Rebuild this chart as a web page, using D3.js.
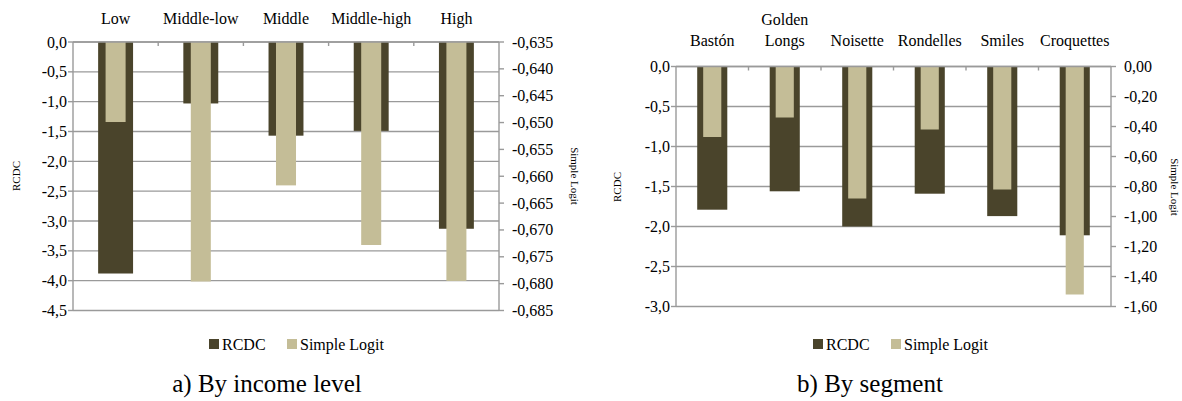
<!DOCTYPE html>
<html><head><meta charset="utf-8">
<script src="https://cdn.jsdelivr.net/npm/d3@7"></script>
</head>
<body style="margin:0;background:#fff"><svg id="c" width="1182" height="401"></svg>
<script>
// ---- Data ----
const incomeCategories = ["Low","Middle-low","Middle","Middle-high","High"];
const incomeRCDC = [-3.88,-1.03,-1.57,-1.49,-3.13];
const incomeLogit = [-0.6499,-0.6796,-0.6617,-0.6728,-0.6795];
const incomeLeftTicks = [0,-0.5,-1,-1.5,-2,-2.5,-3,-3.5,-4,-4.5];
const incomeRightTicks = [-0.635,-0.640,-0.645,-0.650,-0.655,-0.660,-0.665,-0.670,-0.675,-0.680,-0.685];

const segmentCategories = [["Bastón"],["Golden","Longs"],["Noisette"],["Rondelles"],["Smiles"],["Croquettes"]];
const segmentRCDC = [-1.79,-1.56,-2.0,-1.59,-1.87,-2.11];
const segmentLogit = [-0.47,-0.34,-0.88,-0.42,-0.82,-1.52];
const segmentLeftTicks = [0,-0.5,-1,-1.5,-2,-2.5,-3];
const segmentRightTicks = [0,-0.2,-0.4,-0.6,-0.8,-1.0,-1.2,-1.4,-1.6];

const seriesNames = ["RCDC","Simple Logit"];
const seriesColors = ["#4a442b","#c4bd97"];
const captions = ["a) By income level","b) By segment"];

const svg = d3.select("#c");
const fmt = (d, n) => d3.format("." + n + "f")(d).replace("−","-").replace(".", ",");
const txt = () => svg.append("text").style("font-family","'Liberation Serif'","important").style("fill","#000");

function drawChart(o){
  const g = svg.append("g");
  const x = d3.scaleBand().domain(o.cats.map((c,i)=>i)).range([o.x0,o.x1]).padding(0);
  const yL = d3.scaleLinear().domain([o.lt[0], o.lt[o.lt.length-1]]).range([o.y0,o.y1]);
  const yR = d3.scaleLinear().domain([o.rt[0], o.rt[o.rt.length-1]]).range([o.y0,o.y1]);
  const grid = "#9a9a9a";
  g.append("g").selectAll("line").data(o.lt).join("line")
    .attr("x1",o.x0).attr("x2",o.x1).attr("y1",d=>yL(d)).attr("y2",d=>yL(d))
    .attr("stroke",grid).attr("stroke-width",1.4);
  const bwR = x.bandwidth()*o.wR, bwS = x.bandwidth()*o.wS;
  g.append("g").selectAll("rect").data(o.rcdc).join("rect")
    .attr("x",(d,i)=>x(i)+x.bandwidth()/2-bwR/2).attr("width",bwR)
    .attr("y",yL(0)).attr("height",d=>yL(d)-yL(0)).attr("fill",seriesColors[0]);
  g.append("g").selectAll("rect").data(o.logit).join("rect")
    .attr("x",(d,i)=>x(i)+x.bandwidth()/2-bwS/2).attr("width",bwS)
    .attr("y",o.y0).attr("height",d=>yR(d)-o.y0).attr("fill",seriesColors[1]);
  const ax = g.append("g").attr("stroke",grid).attr("stroke-width",1.4);
  ax.append("line").attr("x1",o.x0).attr("x2",o.x0).attr("y1",o.y0).attr("y2",o.y1);
  ax.append("line").attr("x1",o.x1).attr("x2",o.x1).attr("y1",o.y0).attr("y2",o.y1);
  ax.append("line").attr("x1",o.x0).attr("x2",o.x1).attr("y1",o.y0).attr("y2",o.y0);
  ax.selectAll(".lt").data(o.lt).join("line").attr("class","lt")
    .attr("x1",o.x0-5).attr("x2",o.x0).attr("y1",d=>yL(d)).attr("y2",d=>yL(d));
  ax.selectAll(".rt").data(o.rt).join("line").attr("class","rt")
    .attr("x1",o.x1).attr("x2",o.x1+5).attr("y1",d=>yR(d)).attr("y2",d=>yR(d));
  ax.selectAll(".ct").data(d3.range(1,o.cats.length)).join("line").attr("class","ct")
    .attr("x1",d=>x(d)).attr("x2",d=>x(d)).attr("y1",o.y0).attr("y2",o.y0+4);
  o.lt.forEach(d=>{
    txt().attr("x",o.x0-6).attr("y",yL(d)+5.5).attr("text-anchor","end")
      .attr("font-size",16).text(fmt(d,o.ld));
  });
  o.rt.forEach(d=>{
    txt().attr("x",o.x1+13).attr("y",yR(d)+5.5).attr("text-anchor","start")
      .attr("font-size",16).text(fmt(d,o.rd));
  });
  o.cats.forEach((c,i)=>{
    const lines = Array.isArray(c)?c:[c];
    lines.forEach((t,j)=>{
      txt().attr("x",x(i)+x.bandwidth()/2)
        .attr("y",o.catY-(lines.length-1-j)*21).attr("text-anchor","middle")
        .attr("font-size",16).text(t);
    });
  });
  txt().attr("transform",`translate(${o.tLx},${o.tY}) rotate(-90)`)
    .attr("text-anchor","middle").attr("font-size",11).text(seriesNames[0]);
  txt().attr("transform",`translate(${o.tRx},${o.tY}) rotate(90)`)
    .attr("text-anchor","middle").attr("font-size",11).text(seriesNames[1]);
  o.legX.forEach((lx,i)=>{
    g.append("rect").attr("x",lx).attr("y",339).attr("width",10).attr("height",10).attr("fill",seriesColors[i]);
    txt().attr("x",lx+13).attr("y",349.5).attr("font-size",16).text(seriesNames[i]);
  });
  txt().attr("x",o.capX).attr("y",392).attr("text-anchor","middle")
    .attr("font-size",25).text(o.caption);
}

drawChart({cats:incomeCategories, rcdc:incomeRCDC, logit:incomeLogit,
  lt:incomeLeftTicks, rt:incomeRightTicks, ld:1, rd:3,
  x0:73, x1:499, y0:42, y1:310.5, wR:0.41, wS:0.235, catY:24,
  tLx:20, tRx:571, tY:176, legX:[209,287], capX:267, caption:captions[0]});

drawChart({cats:segmentCategories, rcdc:segmentRCDC, logit:segmentLogit,
  lt:segmentLeftTicks, rt:segmentRightTicks, ld:1, rd:2,
  x0:676, x1:1111, y0:66.5, y1:306.5, wR:0.415, wS:0.25, catY:46,
  tLx:621, tRx:1171, tY:187, legX:[813,891], capX:870, caption:captions[1]});
</script></body></html>
